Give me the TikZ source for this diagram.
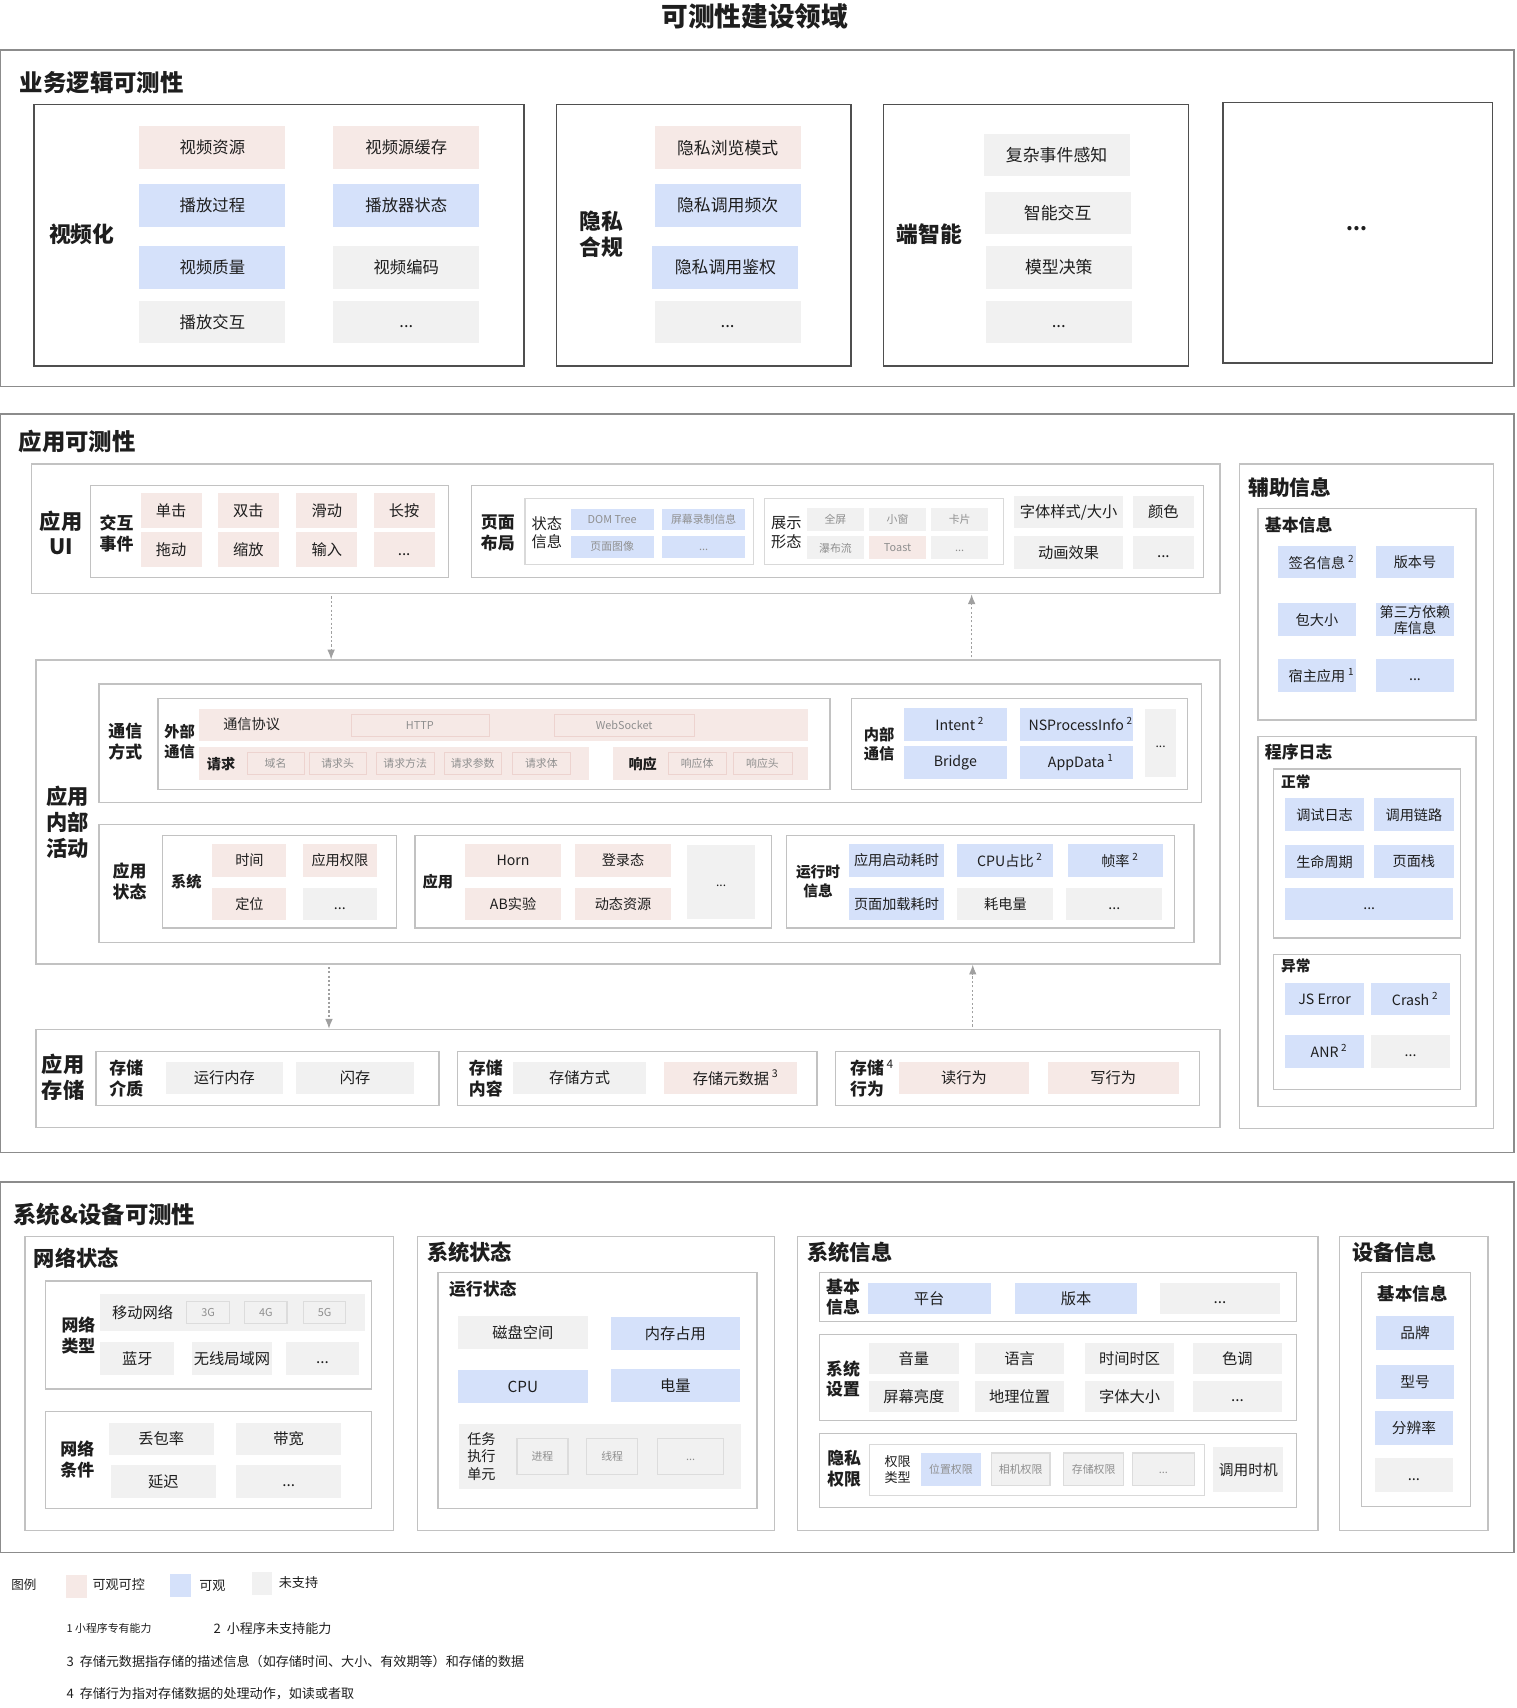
\documentclass[tikz,border=0pt]{standalone}
\usepackage{fontspec}
\setmainfont{Noto Sans CJK SC}
\usetikzlibrary{fit,arrows.meta}
\definecolor{pk}{HTML}{F6E9E6}
\definecolor{bl}{HTML}{D5E1FA}
\definecolor{gy}{HTML}{F1F1F1}
\definecolor{pkd}{HTML}{EDD3CF}
\definecolor{gyd}{HTML}{DCDCDC}
\definecolor{secc}{HTML}{8C8C8C}
\definecolor{dkc}{HTML}{4F4F4F}
\definecolor{ltc}{HTML}{C2C2C2}
\definecolor{lttc}{HTML}{D9D9D9}
\definecolor{txt}{HTML}{1E1E1E}
\definecolor{tgy}{HTML}{8F8F8F}
\definecolor{arrc}{HTML}{A0A0A0}
\newcommand\mdots{\vphantom{国}...}
\newcommand\sups[1]{\rlap{\kern2.5pt\raisebox{1pt}{\textsuperscript{#1}}}}
\begin{document}
\begin{tikzpicture}[x=1pt, y=-1pt,
    every node/.style={text=txt},
    fs/.style 2 args={font=\fontsize{#1}{#2}\selectfont},
    fb/.style 2 args={font=\bfseries\fontsize{#1}{#2}\selectfont},
    cell/.style={inner sep=0, align=center, fs={14}{17}},
    tin/.style={cell, fs={10}{12}, text=tgy},
    lab/.style={align=center, inner sep=0},
    sec/.style={draw=secc, line width=1.2pt, inner sep=0},
    dk/.style={draw=dkc, line width=1.5pt, inner sep=0},
    lt/.style={draw=ltc, line width=1.2pt, inner sep=0},
    ltt/.style={draw=lttc, line width=1pt, inner sep=0},
    dar/.style={draw=arrc, line width=1pt, dash pattern=on 2pt off 2pt, shorten <=2pt, -{Latex[length=9pt, width=7pt]}}]
    \path[fill=white, use as bounding box] (0,0) rectangle (1392,1568);
    \node[fb={24.5}{28}] (title) at (693,15) {可测性建设领域};

    \node[sec, fit={(0.75,46) (1390,355)}] (s1) {};
    \node[lab, fb={21.5}{25}, anchor=west] (s1t) at (18,76) {业务逻辑可测性};
    \node[dk, fit={(31,96) (481,336)}] (b1) {};
    \node[lab, fb={20}{24}] (b1l) at (75,215) {视频化};
    \foreach \s/\x/\y/\f [count=\i] in {视频资源/195/135.5/pk, 视频源缓存/373/135.5/pk, 播放过程/195/188.5/bl, 播放器状态/373/188.5/bl, 视频质量/195/245.5/bl, 视频编码/373/245.5/gy, 播放交互/195/295.5/gy, \mdots/373/295.5/gy}
        \node[cell, fill=\f, fs={15}{18}, minimum width=134, minimum height=39] (b1c\i) at (\x,\y) {\s};
    \node[dk, fit={(511,96) (781,336)}] (b2) {};
    \node[lab, fb={20}{24}] (b2l) at (552,215) {隐私\\合规};
    \foreach \s/\x/\y/\f [count=\i] in {隐私浏览模式/668/135.5/pk, 隐私调用频次/668/188.5/bl, 隐私调用鉴权/666/245.5/bl, \mdots/668/295.5/gy}
        \node[cell, fill=\f, fs={15.5}{18}, minimum width=134, minimum height=39] (b2c\i) at (\x,\y) {\s};
    \node[dk, fit={(811,96) (1091,336)}] (b3) {};
    \node[lab, fb={20}{24}] (b3l) at (853,215) {端智能};
    \foreach \s/\x/\y [count=\i] in {复杂事件感知/970/142.5, 智能交互/971/195.5, 模型决策/972/245.5, \mdots/972/295.5}
        \node[cell, fill=gy, fs={15.5}{18}, minimum width=134, minimum height=39] (b3c\i) at (\x,\y) {\s};
    \node[dk, fit={(1123,94) (1370,333)}] (b4) {};
    \node[lab, fb={18}{20}] (b4l) at (1246,210) {...};

    \node[sec, fit={(0.75,380) (1390,1058)}] (s2) {};
    \node[lab, fb={21.5}{25}, anchor=west] (s2t) at (17,405) {应用可测性};
    \node[lt, fit={(29,426) (1120,545)}] (ui) {};
    \node[lab, fb={19.5}{23}] (uil) at (56,489) {应用\\UI};
    \node[lt, fit={(83,446) (412,530)}] (uia) {};
    \node[lab, fb={15.5}{19}] (uial) at (107,490) {交互\\事件};
    \foreach \s/\x/\y [count=\i] in {单击/157/469, 双击/228/469, 滑动/300/469, 长按/371/469, 拖动/157/504.5, 缩放/228/504.5, 输入/300/504.5, \mdots/371/504.5}
        \node[cell, fill=pk, minimum width=56, minimum height=32] (uia\i) at (\x,\y) {\s};
    \node[lt, fit={(433,446) (1105,530)}] (uib) {};
    \node[lab, fb={15.5}{19}] (uibl) at (457,489) {页面\\布局};
    \node[ltt, fit={(482,458) (692,518)}] (uib1) {};
    \node[lab, fs={14}{17}] (uib1l) at (502,489) {状态\\信息};
    \foreach \s/\x/\y [count=\i] in {DOM Tree/562/477, 屏幕录制信息/646/477, 页面图像/562/502, \mdots/646/502}
        \node[tin, fill=bl, minimum width=76, minimum height=20] (uib1\i) at (\x,\y) {\s};
    \node[ltt, fit={(702,458) (921,518)}] (uib2) {};
    \node[lab, fs={14}{17}] (uib2l) at (722,489) {展示\\形态};
    \foreach \s/\x/\y/\f [count=\i] in {全屏/767/477/gy, 小窗/824/477/gy, 卡片/881/477/gy, 瀑布流/767/503/gy, Toast/824/503/pk, \mdots/881/503/gy}
        \node[tin, fill=\f, minimum width=52, minimum height=21] (uib2\i) at (\x,\y) {\s};
    \node[cell, fill=gy, minimum width=100, minimum height=30] (uib3) at (981,470) {字体样式/大小};
    \node[cell, fill=gy, minimum width=56, minimum height=30] (uib4) at (1068,470) {颜色};
    \node[cell, fill=gy, minimum width=100, minimum height=30] (uib5) at (981,507) {动画效果};
    \node[cell, fill=gy, minimum width=56, minimum height=30] (uib6) at (1068,507) {\mdots};

    \node[lt, fit={(33,606) (1120,885)}] (act) {};
    \node[lab, fb={19.5}{24}] (actl) at (62,755) {应用\\内部\\活动};
    \coordinate (d1) at (304,0);
    \coordinate (u1) at (892,0);
    \draw[dar] (ui.south -| d1) -- (act.north -| d1);
    \draw[dar] (act.north -| u1) -- (ui.south -| u1);
    \node[lt, fit={(91,628) (1103,737)}] (cm) {};
    \node[lab, fb={15.5}{19}] (cml) at (115,681) {通信\\方式};
    \node[lt, fit={(145,641) (762,725)}] (cmx) {};
    \node[lab, fb={14}{18}] (cmxl) at (165,681) {外部\\通信};
    \node[cell, fill=pk, fit={(183,651) (742,680)}] (cmx1) {};
    \node[lab, fs={13}{15}] (cmx1l) at (231,665) {通信协议};
    \node[tin, fill=pk, draw=pkd, minimum width=127, minimum height=20] (cmx1a) at (385.5,666) {HTTP};
    \node[tin, fill=pk, draw=pkd, minimum width=128, minimum height=20] (cmx1b) at (573,666) {WebSocket};
    \node[cell, fill=pk, fit={(183,686) (541,716)}] (cmx2) {};
    \node[lab, fb={13}{15}] (cmx2l) at (203,701) {请求};
    \foreach \s/\x [count=\i] in {域名/253, 请求头/310, 请求方法/372, 请求参数/434, 请求体/497}
        \node[tin, fill=pk, draw=pkd, minimum width=53, minimum height=20] (cmx2\i) at (\x,701) {\s};
    \node[cell, fill=pk, fit={(563,686) (742,716)}] (cmx3) {};
    \node[lab, fb={13}{15}] (cmx3l) at (590,701) {响应};
    \foreach \s/\x [count=\i] in {响应体/640, 响应头/700}
        \node[tin, fill=pk, draw=pkd, minimum width=54, minimum height=20] (cmx3\i) at (\x,701) {\s};
    \node[lt, fit={(782,641) (1090,725)}] (cmi) {};
    \node[lab, fb={14}{18}] (cmil) at (807,683) {内部\\通信};
    \foreach \s/\x/\y/\w [count=\i] in {Intent\sups{2}/877/665/94, NSProcessInfo\sups{2}/988/665/104, Bridge/877/700/94, AppData\sups{1}/988/700/104}
        \node[cell, fill=bl, fs={13}{16}, minimum width=\w, minimum height=30] (cmi\i) at (\x,\y) {\s};
    \node[cell, fill=gy, fs={11}{13}, minimum width=29, minimum height=63] (cmi5) at (1065.5,682) {\mdots};

    \node[lt, fit={(91,757) (1096,865)}] (st) {};
    \node[lab, fb={15.5}{19}] (stl) at (119,809) {应用\\状态};
    \node[lt, fit={(149,767) (364,852)}] (st1) {};
    \node[lab, fb={14}{17}] (st1l) at (171,809) {系统};
    \foreach \s/\x/\y/\f [count=\i] in {时间/229/790/pk, 应用权限/312/790/pk, 定位/229/830/pk, \mdots/312/830/gy}
        \node[cell, fill=\f, fs={13}{15}, minimum width=68, minimum height=30] (st1\i) at (\x,\y) {\s};
    \node[lt, fit={(381,767) (708,852)}] (st2) {};
    \node[lab, fb={14}{17}] (st2l) at (402,809) {应用};
    \foreach \s/\x/\y [count=\i] in {Horn/471/790, 登录态/572/790, AB实验/471/830, 动态资源/572/830}
        \node[cell, fill=pk, fs={13}{15}, minimum width=88, minimum height=30] (st2\i) at (\x,\y) {\s};
    \node[cell, fill=gy, fs={11}{13}, minimum width=62, minimum height=68] (st25) at (662,810) {\mdots};
    \node[lt, fit={(722,767) (1078,852)}] (st3) {};
    \node[lab, fb={13.5}{17}] (st3l) at (751,809) {运行时\\信息};
    \foreach \s/\x/\y/\f [count=\i] in {应用启动耗时/823/790/bl, CPU占比\sups{2}/923/790/bl, 帧率\sups{2}/1024/790/bl, 页面加载耗时/823/830/bl, 耗电量/923/830/gy, \mdots/1023/830/gy}
        \node[cell, fill=\f, fs={13}{15}, minimum width=88, minimum height=30] (st3\i) at (\x,\y) {\s};

    \node[lt, fit={(33,945) (1120,1035)}] (sto) {};
    \node[lab, fb={19.5}{23}] (stol) at (58,989) {应用\\存储};
    \coordinate (d2) at (302,0);
    \coordinate (u2) at (893,0);
    \draw[dar] (act.south -| d2) -- (sto.north -| d2);
    \draw[dar] (sto.north -| u2) -- (act.south -| u2);
    \node[lt, fit={(88,965) (403,1015)}] (sto1) {};
    \node[lab, fb={15.5}{19}] (sto1l) at (116,990) {存储\\介质};
    \foreach \s/\x [count=\i] in {运行内存/206, 闪存/326}
        \node[cell, fill=gy, minimum width=108, minimum height=29] (sto1\i) at (\x,989.5) {\s};
    \node[lt, fit={(420,965) (750,1015)}] (sto2) {};
    \node[lab, fb={15.5}{19}] (sto2l) at (446,990) {存储\\内容};
    \node[cell, fill=gy, minimum width=122, minimum height=29] (sto21) at (532,989.5) {存储方式};
    \node[cell, fill=pk, minimum width=122, minimum height=29] (sto22) at (671,989.5) {存储元数据\sups{3}};
    \node[lt, fit={(767,965) (1101,1015)}] (sto3) {};
    \node[lab, fb={15.5}{19}] (sto3l) at (796,990) {存储\sups{\mdseries 4}\\行为};
    \foreach \s/\x [count=\i] in {读行为/885, 写行为/1022}
        \node[cell, fill=pk, minimum width=120, minimum height=29] (sto3\i) at (\x,989.5) {\s};

    \node[lt, fit={(1138,426) (1371,1036)}] (aux) {};
    \node[lab, fb={19}{22}, anchor=west] (auxt) at (1146,448) {辅助信息};
    \node[lt, fit={(1155,467) (1355,661)}] (auxa) {};
    \node[lab, fb={15.5}{18}, anchor=west] (auxat) at (1161,482) {基本信息};
    \foreach \s/\x/\y [count=\i] in {签名信息\sups{2}/1209/516, 版本号/1299/516, 包大小/1209/569, 第三方依赖\\库信息/1299/569, 宿主应用\sups{1}/1209/620, \mdots/1299/620}
        \node[cell, fill=bl, fs={13}{14.5}, minimum width=72, minimum height=30] (auxa\i) at (\x,\y) {\s};
    \node[lt, fit={(1155,676) (1355,1016)}] (auxb) {};
    \node[lab, fb={15.5}{18}, anchor=west] (auxbt) at (1161,690) {程序日志};
    \node[lt, fit={(1169,706) (1341,861)}] (auxb1) {};
    \node[lab, fb={13.5}{16}, anchor=west] (auxb1t) at (1176,718) {正常};
    \foreach \s/\x/\y [count=\i] in {调试日志/1216/748, 调用链路/1298/748, 生命周期/1216/791, 页面栈/1298/791}
        \node[cell, fill=bl, fs={13}{15}, minimum width=73, minimum height=30] (auxb1\i) at (\x,\y) {\s};
    \node[cell, fill=bl, fs={13}{15}, minimum width=154, minimum height=30] (auxb15) at (1257,830) {\mdots};
    \node[lt, fit={(1169,876) (1341,1000)}] (auxb2) {};
    \node[lab, fb={13.5}{16}, anchor=west] (auxb2t) at (1176,887) {异常};
    \foreach \s/\x/\y/\f [count=\i] in {JS Error/1216/917/bl, Crash\sups{2}/1295/917/bl, ANR\sups{2}/1216/965/bl, \mdots/1295/965/gy}
        \node[cell, fill=\f, fs={13}{15}, minimum width=73, minimum height=30] (auxb2\i) at (\x,\y) {\s};

    \node[sec, fit={(0.75,1085) (1390,1425)}] (s3) {};
    \node[lab, fb={21.5}{25}, anchor=west] (s3t) at (12,1115) {系统\&设备可测性};
    \node[lt, fit={(23,1135) (361,1405)}] (net) {};
    \node[lab, fb={19.5}{22}, anchor=west] (nett) at (31,1155) {网络状态};
    \node[lt, fit={(42,1176) (341,1275)}] (neta) {};
    \node[lab, fb={15.5}{19}] (netal) at (72,1226) {网络\\类型};
    \node[cell, fill=gy, fit={(92,1188) (335,1222)}] (neta1) {};
    \node[lab, fs={14}{16}] (neta1l) at (131,1205) {移动网络};
    \foreach \s/\x [count=\i] in {3G/191, 4G/244, 5G/298}
        \node[tin, fill=gy, draw=gyd, line width=1pt, minimum width=39, minimum height=20] (neta1\i) at (\x,1205) {\s};
    \foreach \s/\x/\w [count=\i] in {蓝牙/126/68, 无线局域网/213/73, \mdots/296/67}
        \node[cell, fill=gy, minimum width=\w, minimum height=30] (neta2\i) at (\x,1247) {\s};
    \node[lt, fit={(42,1296) (341,1385)}] (netb) {};
    \node[lab, fb={15.5}{19}] (netbl) at (71,1340) {网络\\条件};
    \foreach \s/\x/\y [count=\i] in {丢包率/148/1321, 带宽/265/1321, 延迟/150/1360, \mdots/265/1360}
        \node[cell, fill=gy, minimum width=96, minimum height=30] (netb\i) at (\x,\y) {\s};

    \node[lt, fit={(383,1135) (711,1405)}] (sys) {};
    \node[lab, fb={19.5}{22}, anchor=west] (syst) at (392,1150) {系统状态};
    \node[lt, fit={(402,1168) (695,1385)}] (sysa) {};
    \node[lab, fb={15.5}{18}, anchor=west] (sysat) at (412,1183) {运行状态};
    \foreach \s/\x/\y/\f [count=\i] in {磁盘空间/480/1223/gy, 内存占用/620/1224/bl, CPU/480/1273/bl, 电量/620/1272/bl}
        \node[cell, fill=\f, minimum width=119, minimum height=30] (sysa\i) at (\x,\y) {\s};
    \node[cell, fill=gy, fit={(421,1307) (680,1367)}] (sysb) {};
    \node[lab, fs={13}{16}] (sysbl) at (442,1337) {任务\\执行\\单元};
    \foreach \s/\x/\w [count=\i] in {进程/498/47, 线程/562/47, \mdots/634/61}
        \node[tin, fill=gy, draw=gyd, line width=1.2pt, minimum width=\w, minimum height=33] (sysb\i) at (\x,1337) {\s};

    \node[lt, fit={(732,1135) (1210,1405)}] (inf) {};
    \node[lab, fb={19.5}{22}, anchor=west] (inft) at (741,1150) {系统信息};
    \node[lt, fit={(752,1168) (1190,1213)}] (infa) {};
    \node[lab, fb={15.5}{18}] (infal) at (774,1191) {基本\\信息};
    \foreach \s/\x/\w/\f [count=\i] in {平台/853/113/bl, 版本/988/112/bl, \mdots/1120/110/gy}
        \node[cell, fill=\f, minimum width=\w, minimum height=28] (infa\i) at (\x,1192) {\s};
    \node[lt, fit={(752,1225) (1190,1304)}] (infb) {};
    \node[lab, fb={15.5}{19}] (infbl) at (774,1266) {系统\\设置};
    \foreach \s/\x/\y [count=\i] in {音量/839/1247, 语言/936/1247, 时间时区/1037/1247, 色调/1136/1247, 屏幕亮度/839/1282, 地理位置/936/1282, 字体大小/1037/1282, \mdots/1136/1282}
        \node[cell, fill=gy, minimum width=82, minimum height=29] (infb\i) at (\x,\y) {\s};
    \node[lt, fit={(752,1316) (1190,1384)}] (infc) {};
    \node[lab, fb={15.5}{19}] (infcl) at (775,1348) {隐私\\权限};
    \node[ltt, fit={(798,1326) (1106,1373)}] (infc1) {};
    \node[lab, fs={12}{15}] (infc1l) at (824,1349) {权限\\类型};
    \node[tin, fill=bl, minimum width=55, minimum height=30] (infc11) at (873,1349) {位置权限};
    \foreach \s/\x/\w [count=\i from 2] in {相机权限/937/54, 存储权限/1004/55, \mdots/1068/57}
        \node[tin, fill=gy, draw=gyd, line width=1.2pt, minimum width=\w, minimum height=30] (infc1\i) at (\x,1349) {\s};
    \node[cell, fill=gy, fs={13.5}{16}, minimum width=64, minimum height=42] (infc2) at (1146,1349) {调用时机};

    \node[lt, fit={(1230,1135) (1366,1405)}] (dev) {};
    \node[lab, fb={19.5}{22}, anchor=west] (devt) at (1241,1150) {设备信息};
    \node[lt, fit={(1250,1168) (1350,1383)}] (deva) {};
    \node[lab, fb={16}{18}] (devat) at (1297,1188) {基本信息};
    \foreach \s/\x/\y/\f [count=\i] in {品牌/1299/1224/bl, 型号/1299/1269/bl, 分辨率/1298/1311/bl, \mdots/1298/1354/gy}
        \node[cell, fill=\f, fs={13.5}{16}, minimum width=71, minimum height=31] (deva\i) at (\x,\y) {\s};

    \node[lab, fs={11.5}{13}] (lg) at (22,1455) {图例};
    \node[fill=pk, minimum width=19, minimum height=21, inner sep=0] (lg1) at (70.5,1456.5) {};
    \node[lab, fs={12}{14}] (lg1t) at (109,1455) {可观可控};
    \node[fill=bl, minimum width=19, minimum height=21, inner sep=0] (lg2) at (165.5,1455.5) {};
    \node[lab, fs={12}{14}] (lg2t) at (195,1456) {可观};
    \node[fill=gy, minimum width=19, minimum height=21, inner sep=0] (lg3) at (240.5,1453.5) {};
    \node[lab, fs={12}{14}] (lg3t) at (274,1453) {未支持};
    \node[lab, fs={10}{12}, anchor=west] (fn1) at (61,1495) {1\ 小程序专有能力};
    \node[lab, fs={12}{14}, anchor=west] (fn2) at (196,1495) {2\ \ 小程序未支持能力};
    \node[lab, fs={12}{14}, anchor=west] (fn3) at (61,1525) {3\ \ 存储元数据指存储的描述信息（如存储时间、大小、有效期等）和存储的数据};
    \node[lab, fs={12}{14}, anchor=west] (fn4) at (61,1555) {4\ \ 存储行为指对存储数据的处理动作，如读或者取};
\end{tikzpicture}
\end{document}
